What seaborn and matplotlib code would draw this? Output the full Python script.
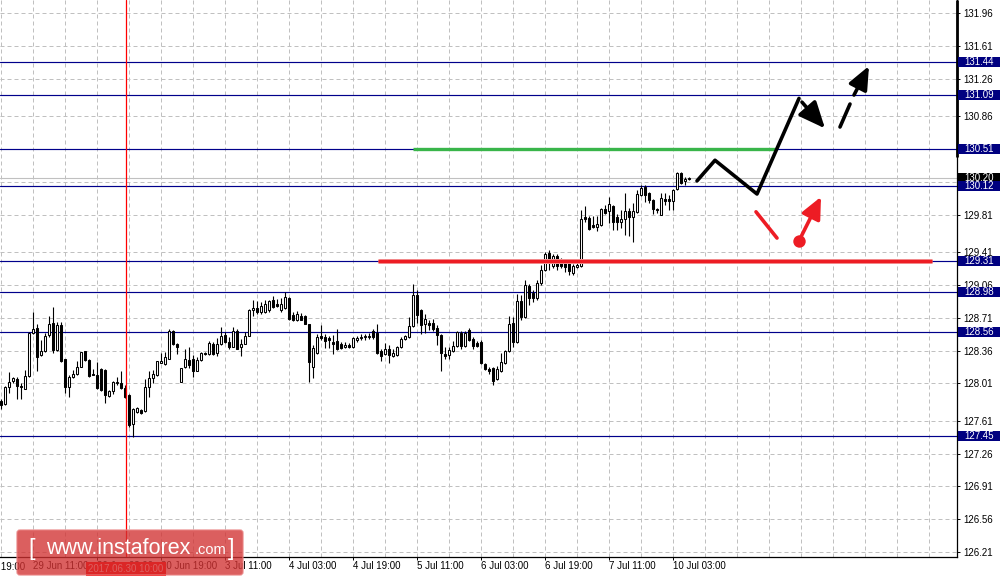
import numpy as np
import pandas as pd
import seaborn as sns
import matplotlib
matplotlib.use("Agg")
import matplotlib.pyplot as plt
import matplotlib.transforms as mtrans
from matplotlib.patches import Rectangle, FancyBboxPatch

# H1 candles, 29 Jun 03:00 .. 10 Jul 07:00 (index 0..172)
opens = [
    127.82, 127.79, 127.97, 128.03, 128.06, 127.98, 127.95, 128.09, 128.55, 128.60,
    128.31, 128.35, 128.53, 128.65, 128.37, 128.63, 128.27, 127.97, 128.08, 128.11,
    128.18, 128.35, 128.26, 128.11, 128.10, 128.16, 128.15, 127.87, 127.93, 128.01,
    128.01, 127.96, 127.89, 127.58, 127.70, 127.73, 127.71, 127.97, 128.07, 128.10,
    128.23, 128.22, 128.27, 128.57, 128.43, 128.02, 128.18, 128.26, 128.27, 128.14,
    128.26, 128.33, 128.32, 128.43, 128.33, 128.43, 128.53, 128.45, 128.40, 128.57,
    128.40, 128.43, 128.51, 128.79, 128.81, 128.77, 128.77, 128.79, 128.90, 128.86,
    128.79, 128.81, 128.92, 128.74, 128.69, 128.73, 128.73, 128.64, 128.18, 128.33,
    128.51, 128.50, 128.49, 128.45, 128.46, 128.43, 128.40, 128.42, 128.40, 128.47,
    128.49, 128.50, 128.50, 128.57, 128.55, 128.35, 128.32, 128.38, 128.30, 128.31,
    128.40, 128.48, 128.50, 128.62, 128.95, 128.79, 128.64, 128.65, 128.65, 128.60,
    128.53, 128.32, 128.31, 128.35, 128.41, 128.55, 128.41, 128.58, 128.48, 128.44,
    128.45, 128.22, 128.16, 128.17, 128.06, 128.14, 128.23, 128.35, 128.65, 128.45,
    128.89, 128.72, 129.05, 128.97, 128.92, 129.08, 129.22, 129.40, 129.26, 129.37,
    129.33, 129.33, 129.29, 129.19, 129.25, 129.26, 129.78, 129.77, 129.70, 129.68,
    129.70, 129.87, 129.85, 129.90, 129.78, 129.73, 129.76, 129.85, 129.78, 129.84,
    130.02, 130.10, 130.04, 129.97, 129.87, 129.81, 129.98, 129.98, 129.96, 130.08,
    130.25, 130.17, 130.19,
]
highs = [
    127.84, 127.98, 128.13, 128.08, 128.08, 128.01, 128.15, 128.56, 128.77, 128.64,
    128.47, 128.55, 128.73, 128.82, 128.66, 128.66, 128.27, 128.10, 128.15, 128.25,
    128.34, 128.35, 128.27, 128.16, 128.24, 128.17, 128.16, 127.94, 128.03, 128.08,
    128.14, 127.99, 127.90, 127.75, 127.76, 127.74, 128.06, 128.14, 128.15, 128.25,
    128.33, 128.34, 128.59, 128.58, 128.44, 128.17, 128.38, 128.40, 128.31, 128.29,
    128.34, 128.34, 128.46, 128.45, 128.49, 128.61, 128.56, 128.50, 128.61, 128.59,
    128.48, 128.56, 128.80, 128.90, 128.89, 128.88, 128.90, 128.90, 128.94, 128.91,
    128.92, 128.98, 128.93, 128.77, 128.78, 128.76, 128.74, 128.64, 128.42, 128.54,
    128.63, 128.54, 128.51, 128.53, 128.59, 128.45, 128.45, 128.44, 128.50, 128.51,
    128.54, 128.54, 128.55, 128.59, 128.64, 128.38, 128.44, 128.42, 128.38, 128.41,
    128.50, 128.53, 128.72, 129.07, 129.01, 128.80, 128.75, 128.69, 128.70, 128.63,
    128.54, 128.40, 128.40, 128.46, 128.57, 128.57, 128.57, 128.60, 128.50, 128.46,
    128.47, 128.23, 128.18, 128.18, 128.19, 128.33, 128.37, 128.73, 128.72, 128.96,
    128.95, 129.11, 129.07, 129.01, 129.11, 129.27, 129.41, 129.43, 129.39, 129.39,
    129.35, 129.34, 129.30, 129.28, 129.33, 129.86, 129.90, 129.80, 129.80, 129.80,
    129.88, 129.91, 130.00, 129.91, 129.82, 129.86, 130.04, 129.88, 129.93, 130.07,
    130.13, 130.13, 130.05, 129.98, 129.88, 130.04, 130.04, 130.02, 130.08, 130.26,
    130.26, 130.21, 130.21,
]
lows = [
    127.74, 127.78, 127.91, 128.01, 127.84, 127.84, 127.95, 128.08, 128.54, 128.14,
    128.30, 128.34, 128.50, 128.33, 128.35, 128.24, 127.91, 127.86, 128.07, 128.10,
    128.18, 128.25, 128.08, 128.10, 127.95, 127.93, 127.80, 127.86, 127.90, 127.99,
    127.95, 127.85, 127.54, 127.44, 127.69, 127.68, 127.70, 127.86, 128.01, 128.09,
    128.23, 128.21, 128.27, 128.42, 128.32, 128.02, 128.17, 128.17, 128.08, 128.14,
    128.25, 128.31, 128.31, 128.31, 128.30, 128.42, 128.44, 128.38, 128.40, 128.38,
    128.30, 128.43, 128.51, 128.73, 128.75, 128.75, 128.76, 128.77, 128.81, 128.82,
    128.77, 128.80, 128.69, 128.67, 128.67, 128.69, 128.64, 128.02, 128.07, 128.32,
    128.47, 128.39, 128.39, 128.32, 128.37, 128.38, 128.39, 128.39, 128.39, 128.45,
    128.47, 128.47, 128.48, 128.48, 128.32, 128.25, 128.31, 128.23, 128.29, 128.30,
    128.39, 128.47, 128.49, 128.61, 128.65, 128.54, 128.55, 128.58, 128.57, 128.42,
    128.14, 128.27, 128.27, 128.34, 128.40, 128.38, 128.40, 128.46, 128.38, 128.40,
    128.22, 128.15, 128.11, 127.99, 128.05, 128.13, 128.22, 128.34, 128.40, 128.44,
    128.69, 128.71, 128.85, 128.88, 128.90, 129.06, 129.21, 129.22, 129.24, 129.22,
    129.24, 129.20, 129.17, 129.17, 129.24, 129.25, 129.73, 129.65, 129.67, 129.64,
    129.69, 129.82, 129.72, 129.65, 129.65, 129.67, 129.59, 129.58, 129.52, 129.83,
    130.01, 129.94, 129.93, 129.82, 129.83, 129.81, 129.91, 129.86, 129.86, 130.07,
    130.14, 130.13, 130.18,
]
closes = [
    127.78, 127.97, 128.02, 128.07, 127.98, 127.97, 128.09, 128.55, 128.59, 128.29,
    128.35, 128.51, 128.64, 128.37, 128.63, 128.25, 127.97, 128.08, 128.11, 128.18,
    128.34, 128.26, 128.09, 128.10, 127.96, 127.94, 127.89, 127.93, 128.02, 128.02,
    127.96, 127.86, 127.57, 127.74, 127.75, 127.69, 127.97, 128.07, 128.11, 128.25,
    128.25, 128.29, 128.57, 128.43, 128.40, 128.17, 128.27, 128.21, 128.14, 128.26,
    128.33, 128.32, 128.44, 128.32, 128.43, 128.51, 128.45, 128.40, 128.57, 128.38,
    128.43, 128.51, 128.79, 128.81, 128.77, 128.83, 128.86, 128.89, 128.82, 128.83,
    128.86, 128.93, 128.70, 128.69, 128.75, 128.69, 128.64, 128.24, 128.39, 128.50,
    128.49, 128.46, 128.47, 128.43, 128.38, 128.39, 128.42, 128.40, 128.49, 128.49,
    128.50, 128.51, 128.51, 128.50, 128.33, 128.30, 128.38, 128.31, 128.33, 128.40,
    128.48, 128.51, 128.62, 128.95, 128.74, 128.63, 128.70, 128.63, 128.59, 128.53,
    128.33, 128.30, 128.37, 128.41, 128.56, 128.41, 128.55, 128.47, 128.41, 128.41,
    128.23, 128.16, 128.14, 128.03, 128.16, 128.24, 128.35, 128.64, 128.45, 128.89,
    128.72, 129.06, 128.92, 128.92, 129.08, 129.22, 129.39, 129.29, 129.37, 129.26,
    129.26, 129.25, 129.21, 129.26, 129.27, 129.76, 129.76, 129.66, 129.68, 129.71,
    129.87, 129.83, 129.92, 129.73, 129.73, 129.76, 129.85, 129.78, 129.85, 130.03,
    130.09, 130.02, 129.97, 129.87, 129.86, 129.99, 129.96, 129.96, 130.07, 130.25,
    130.15, 130.19, 130.20,
]

time_ticks = [8, 24, 40, 56, 72, 88, 104, 120, 136, 152, 168]
time_labels = ["29 Jun 11:00", "30 Jun 03:00", "30 Jun 19:00",
               "3 Jul 11:00", "4 Jul 03:00", "4 Jul 19:00", "5 Jul 11:00",
               "6 Jul 03:00", "6 Jul 19:00", "7 Jul 11:00", "10 Jul 03:00"]
first_tick, first_label = -8, "28 Jun 19:00"

price_grid = [131.96, 131.61, 131.26, 130.86, 130.51, 130.16, 129.81, 129.41, 129.06,
              128.71, 128.36, 128.01, 127.61, 127.26, 126.91, 126.56, 126.21]
price_labels = ["131.96", "131.61", "131.26", "130.86", "", "", "129.81", "129.41",
                "129.06", "128.71", "128.36", "128.01", "127.61", "127.26", "126.91",
                "126.56", "126.21"]

levels = [131.44, 131.09, 130.51, 130.12, 129.31, 128.98, 128.56, 127.45]
bid = 130.20

# drawn objects (candle index, price)
green_k, green_p = [103, 193.5], 130.51
red_k, red_p = [94.25, 232.75], 129.31
cursor_k = 31.2
path_k = [174, 178.5, 189, 199.5]
path_p = [130.17, 130.39, 130.03, 131.05]
arrow1 = [(200.25, 131.01), (206, 130.73)]
dash_seg = [(209.75, 130.745), (212.25, 130.99)]
arrow2 = [(213.25, 131.086), (217, 131.396)]
red_seg_k = [188.75, 194]
red_seg_p = [129.84, 129.56]
red_dot = (199.5, 129.53)
red_arrow_tip = (205, 130.0)

sns.set_theme(style="ticks")
plt.rcParams['font.family'] = ['Liberation Sans', 'DejaVu Sans']

W, H = 1001, 581
fig = plt.figure(figsize=(W / 100, H / 100), dpi=100, facecolor='white')
ax = fig.add_axes([0, 24 / H, 957 / W, 557 / H])
ax.set_facecolor('white')

# grid
for p in price_grid:
    ax.axhline(p, color='#c0c0c0', lw=0.72, ls=(0, (4, 3)), zorder=0)
for k in range(0, 240, 8):
    ax.axvline(k, color='#c0c0c0', lw=0.72, ls=(0, (4, 3)), zorder=0)

ax.axhline(bid, color='#c0c0c0', lw=0.8, zorder=1)
for lv in levels:
    ax.axhline(lv, color='#00008b', lw=0.85, zorder=1)

# candles
df = pd.DataFrame({"open": opens, "high": highs, "low": lows, "close": closes})
df["idx"] = np.arange(len(df))
up = df["close"] >= df["open"]
ax.vlines(df["idx"], df["low"], df["high"], color='black', lw=0.8, zorder=3)
bottom = np.minimum(df["open"], df["close"])
height = np.maximum((df["close"] - df["open"]).abs(), 0.004)
ax.bar(df["idx"], height, bottom=bottom, width=0.6,
       color=np.where(up, 'white', 'black'), edgecolor='black', lw=0.75, zorder=4)

ax.axvline(cursor_k, color='red', lw=0.9, zorder=5)

# support/resistance strokes
ax.plot(red_k, [red_p, red_p], color='#f4a0a0', lw=3.6, zorder=5, solid_capstyle='butt')
ax.plot(red_k, [red_p, red_p], color='#ed1c24', lw=2.4, zorder=5, solid_capstyle='butt')
ax.plot(green_k, [green_p, green_p], color='#39b54a', lw=2.4, zorder=5, solid_capstyle='butt')

# forecast drawing
sns.lineplot(x=path_k, y=path_p, sort=False, color='black', lw=2.6, ax=ax, zorder=6)
ax.annotate('', xy=arrow1[1], xytext=arrow1[0], zorder=6,
            arrowprops=dict(arrowstyle='-|>,head_length=0.8,head_width=0.35', color='black',
                            lw=2.6, mutation_scale=20, shrinkA=0, shrinkB=0))
ax.plot([dash_seg[0][0], dash_seg[1][0]], [dash_seg[0][1], dash_seg[1][1]],
        color='black', lw=2.6, zorder=6)
ax.annotate('', xy=arrow2[1], xytext=arrow2[0], zorder=6,
            arrowprops=dict(arrowstyle='-|>,head_length=0.7,head_width=0.3', color='black',
                            lw=2.6, mutation_scale=20, shrinkA=0, shrinkB=0))
ax.plot(red_seg_k, red_seg_p, color='#ed1c24', lw=2.6, zorder=6)
sns.scatterplot(x=[red_dot[0]], y=[red_dot[1]], color='#ed1c24', s=80, linewidth=0,
                ax=ax, zorder=7)
ax.annotate('', xy=red_arrow_tip, xytext=red_dot, zorder=6,
            arrowprops=dict(arrowstyle='-|>,head_length=0.65,head_width=0.3', color='#ed1c24',
                            lw=2.6, mutation_scale=20, shrinkA=0, shrinkB=0))

# axes
for s in ['left', 'top']:
    ax.spines[s].set_visible(False)
for s in ['right', 'bottom']:
    ax.spines[s].set_color('black')
    ax.spines[s].set_linewidth(0.9)
ax.yaxis.tick_right()
ax.set_yticks(price_grid)
ax.set_yticklabels(price_labels)
ax.tick_params(axis='y', right=True, left=False, length=2.2, width=0.7, pad=2.4,
               labelsize=7, colors='black')
ax.set_xticks(time_ticks)
ax.set_xticklabels(time_labels, ha='left')
ax.tick_params(axis='x', bottom=True, length=2.2, width=0.7, pad=0.8, labelsize=7,
               colors='black')
ax.set_xlabel('')
ax.set_ylabel('')
# limits last: set_xticks would otherwise widen the view
ax.set_xlim(-0.25, 239)
ax.set_ylim(126.157, 132.10)
ax.plot([1, 1], [1 - 157 / 557, 1], transform=ax.transAxes, color='black', lw=2.0,
        clip_on=False, solid_capstyle='butt', zorder=8)

# the first time label starts left of the chart and is cut by the window edge
xblend = mtrans.blended_transform_factory(ax.transData, ax.transAxes)
ax.text(first_tick, -4.5 / 557, first_label, transform=xblend, fontsize=7, color='black',
        ha='left', va='top', clip_on=False)

# price boxes on the scale
blend = mtrans.blended_transform_factory(ax.transAxes, ax.transData)
box_h = 10 * (132.10 - 126.157) / 557


def price_box(value, face):
    ax.add_patch(Rectangle((958 / 957, value - box_h / 2), 42 / 957, box_h, transform=blend,
                           facecolor=face, edgecolor='none', clip_on=False, zorder=9))
    ax.text(964 / 957, value, f"{value:.2f}", transform=blend, color='white', fontsize=7,
            va='center', ha='left', clip_on=False, zorder=10)


price_box(bid, 'black')
for lv in levels:
    price_box(lv, '#000080')

# cursor date label
px = mtrans.IdentityTransform()
fig.add_artist(Rectangle((86, H - 576), 80, 14, transform=px, facecolor='#ff0000',
                         edgecolor='none', zorder=20))
fig.text(126 / W, (H - 569) / H, "2017.06.30 10:00", color='white', fontsize=7,
         ha='center', va='center', zorder=21)

# watermark
fig.add_artist(FancyBboxPatch((17, H - 575), 226, 45, boxstyle='round,pad=0,rounding_size=3',
                              transform=px, facecolor='#d23232', edgecolor='#e88080',
                              lw=1, alpha=0.78, zorder=30))
fig.text(28 / W, (H - 549) / H, "[", color='white', fontsize=17, ha='left', va='center',
         zorder=31)
fig.text(46 / W, (H - 549) / H, "www.instaforex", color='white', fontsize=15.5,
         ha='left', va='baseline', zorder=31,
         transform=mtrans.offset_copy(fig.transFigure, fig=fig, x=0, y=-5, units='dots'))
fig.text(195 / W, (H - 549) / H, ".com", color='white', fontsize=10.5, ha='left',
         va='baseline', zorder=31,
         transform=mtrans.offset_copy(fig.transFigure, fig=fig, x=0, y=-5, units='dots'))
fig.text(228 / W, (H - 549) / H, "]", color='white', fontsize=17, ha='left', va='center',
         zorder=31)

fig.savefig("out.png", dpi=100, facecolor='white')
